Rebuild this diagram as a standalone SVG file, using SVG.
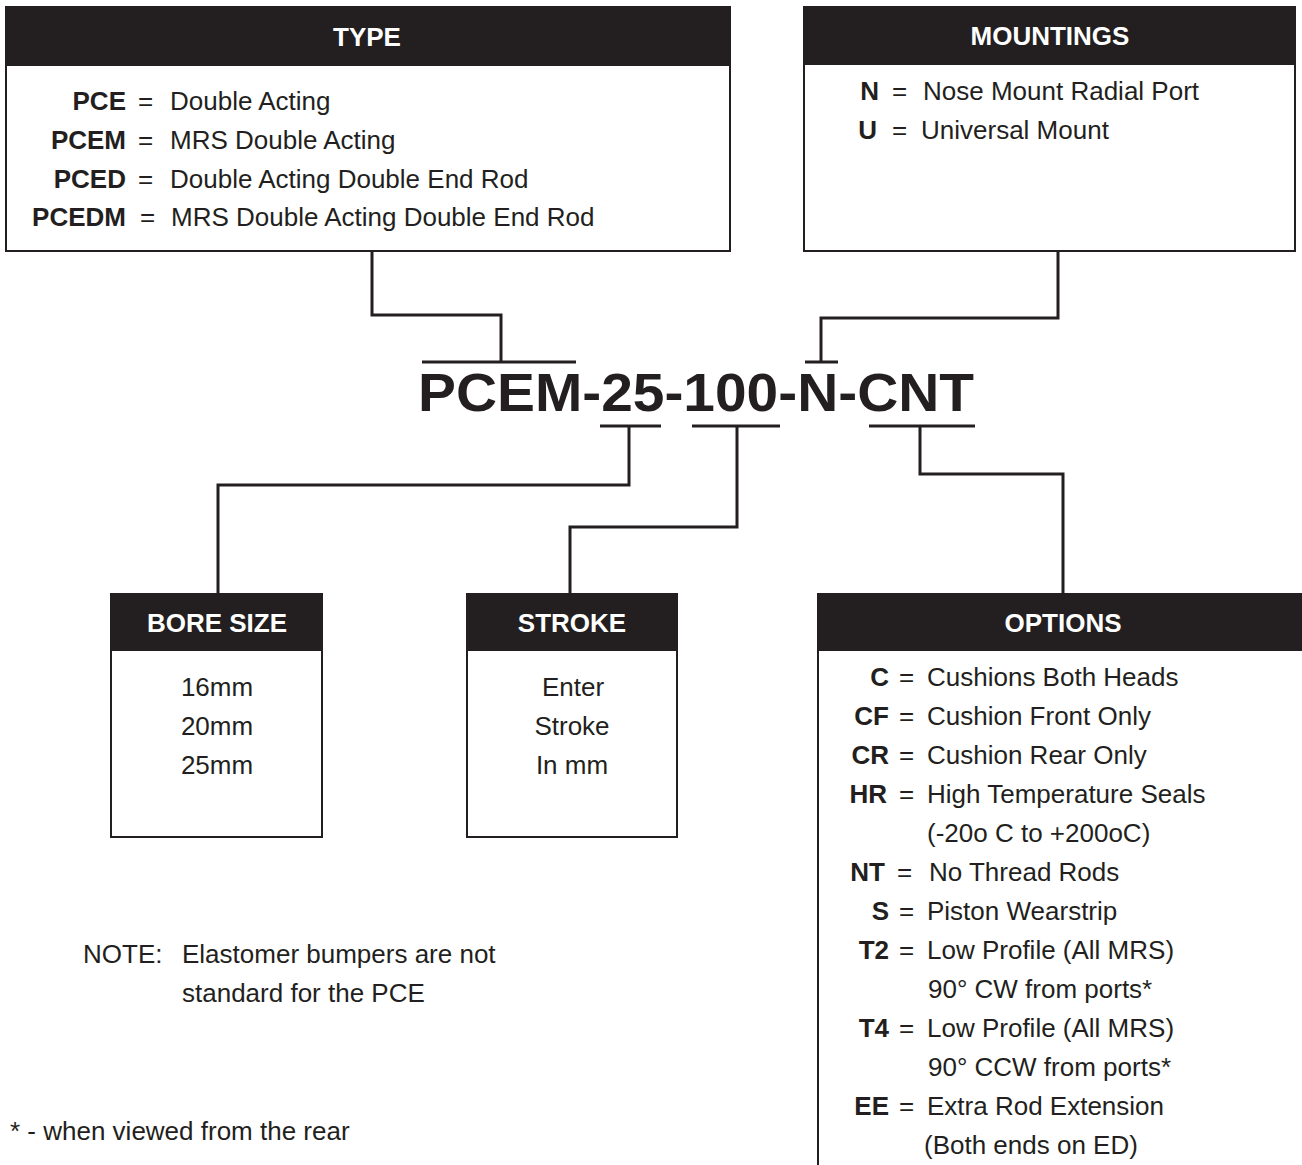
<svg xmlns="http://www.w3.org/2000/svg" width="1302" height="1165" viewBox="0 0 1302 1165">
<style>
text{font-family:"Liberation Sans",Arial,sans-serif;fill:#231f20}
.box{fill:#fff;stroke:#231f20;stroke-width:2}
.hdr{fill:#231f20}
.ht{fill:#fff;font-size:26px;font-weight:bold;text-anchor:middle}
.t{font-size:26px}
.b{font-size:26px;font-weight:bold;text-anchor:end}
.c{text-anchor:middle}
.ln{fill:none;stroke:#231f20;stroke-width:3}
</style>
<rect width="1302" height="1165" fill="#fff"/>
<g id="type">
<rect class="box" x="6" y="7" width="724" height="244"/>
<rect class="hdr" x="6" y="7" width="724" height="59"/>
<text class="ht" x="367" y="46">TYPE</text>
<text class="b" x="126" y="110">PCE</text><text class="t" x="138" y="110">=</text><text class="t" x="170" y="110">Double Acting</text>
<text class="b" x="126" y="149">PCEM</text><text class="t" x="138" y="149">=</text><text class="t" x="170" y="149">MRS Double Acting</text>
<text class="b" x="126" y="188">PCED</text><text class="t" x="138" y="188">=</text><text class="t" x="170" y="188">Double Acting Double End Rod</text>
<text class="b" x="126" y="226">PCEDM</text><text class="t" x="140" y="226">=</text><text class="t" x="171" y="226">MRS Double Acting Double End Rod</text>
</g>
<g id="mountings">
<rect class="box" x="804" y="7" width="491" height="244"/>
<rect class="hdr" x="804" y="7" width="491" height="58"/>
<text class="ht" x="1050" y="45">MOUNTINGS</text>
<text class="b" x="879" y="100">N</text><text class="t" x="892" y="100">=</text><text class="t" x="923" y="100">Nose Mount Radial Port</text>
<text class="b" x="877" y="139">U</text><text class="t" x="892" y="139">=</text><text class="t" x="921" y="139">Universal Mount</text>
</g>
<g id="model">
<text x="418" y="411" font-size="54" font-weight="bold" textLength="556" lengthAdjust="spacingAndGlyphs">PCEM-25-100-N-CNT</text>
</g>
<g id="bore">
<rect class="box" x="111" y="594" width="211" height="243"/>
<rect class="hdr" x="111" y="594" width="211" height="57"/>
<text class="ht" x="217" y="632">BORE SIZE</text>
<text class="t c" x="217" y="696">16mm</text>
<text class="t c" x="217" y="735">20mm</text>
<text class="t c" x="217" y="774">25mm</text>
</g>
<g id="stroke">
<rect class="box" x="467" y="594" width="210" height="243"/>
<rect class="hdr" x="467" y="594" width="210" height="57"/>
<text class="ht" x="572" y="632">STROKE</text>
<text class="t c" x="573" y="696">Enter</text>
<text class="t c" x="572" y="735">Stroke</text>
<text class="t c" x="572" y="774">In mm</text>
</g>
<g id="options">
<rect class="box" x="818" y="594" width="500" height="600"/>
<rect class="hdr" x="818" y="594" width="500" height="57"/>
<text class="ht" x="1063" y="632">OPTIONS</text>
<text class="b" x="889" y="686">C</text><text class="t" x="899" y="686">=</text><text class="t" x="927" y="686">Cushions Both Heads</text>
<text class="b" x="889" y="725">CF</text><text class="t" x="899" y="725">=</text><text class="t" x="927" y="725">Cushion Front Only</text>
<text class="b" x="889" y="764">CR</text><text class="t" x="899" y="764">=</text><text class="t" x="927" y="764">Cushion Rear Only</text>
<text class="b" x="887" y="803">HR</text><text class="t" x="899" y="803">=</text><text class="t" x="927" y="803">High Temperature Seals</text>
<text class="t" x="927" y="842">(-20o C to +200oC)</text>
<text class="b" x="885" y="881">NT</text><text class="t" x="897" y="881">=</text><text class="t" x="929" y="881">No Thread Rods</text>
<text class="b" x="889" y="920">S</text><text class="t" x="899" y="920">=</text><text class="t" x="927" y="920">Piston Wearstrip</text>
<text class="b" x="889" y="959">T2</text><text class="t" x="899" y="959">=</text><text class="t" x="927" y="959">Low Profile (All MRS)</text>
<text class="t" x="928" y="998">90° CW from ports*</text>
<text class="b" x="889" y="1037">T4</text><text class="t" x="899" y="1037">=</text><text class="t" x="927" y="1037">Low Profile (All MRS)</text>
<text class="t" x="928" y="1076">90° CCW from ports*</text>
<text class="b" x="889" y="1115">EE</text><text class="t" x="899" y="1115">=</text><text class="t" x="927" y="1115">Extra Rod Extension</text>
<text class="t" x="924" y="1154">(Both ends on ED)</text>
</g>
<g id="notes">
<text class="t" x="83" y="963">NOTE:</text>
<text class="t" x="182" y="963">Elastomer bumpers are not</text>
<text class="t" x="182" y="1002">standard for the PCE</text>
<text class="t" x="10" y="1140">* - when viewed from the rear</text>
</g>
<g id="connectors">
<polyline class="ln" points="372,251 372,315 501,315 501,362"/>
<line class="ln" x1="422" y1="362" x2="576" y2="362"/>
<polyline class="ln" points="1058,251 1058,318 821,318 821,362"/>
<line class="ln" x1="805" y1="362" x2="838" y2="362"/>
<line class="ln" x1="600" y1="426" x2="661" y2="426"/>
<polyline class="ln" points="629,426 629,485 218,485 218,594"/>
<line class="ln" x1="692" y1="426" x2="780" y2="426"/>
<polyline class="ln" points="737,426 737,527 570,527 570,594"/>
<line class="ln" x1="869" y1="426" x2="975" y2="426"/>
<polyline class="ln" points="920,426 920,474 1063,474 1063,594"/>
</g>
</svg>
